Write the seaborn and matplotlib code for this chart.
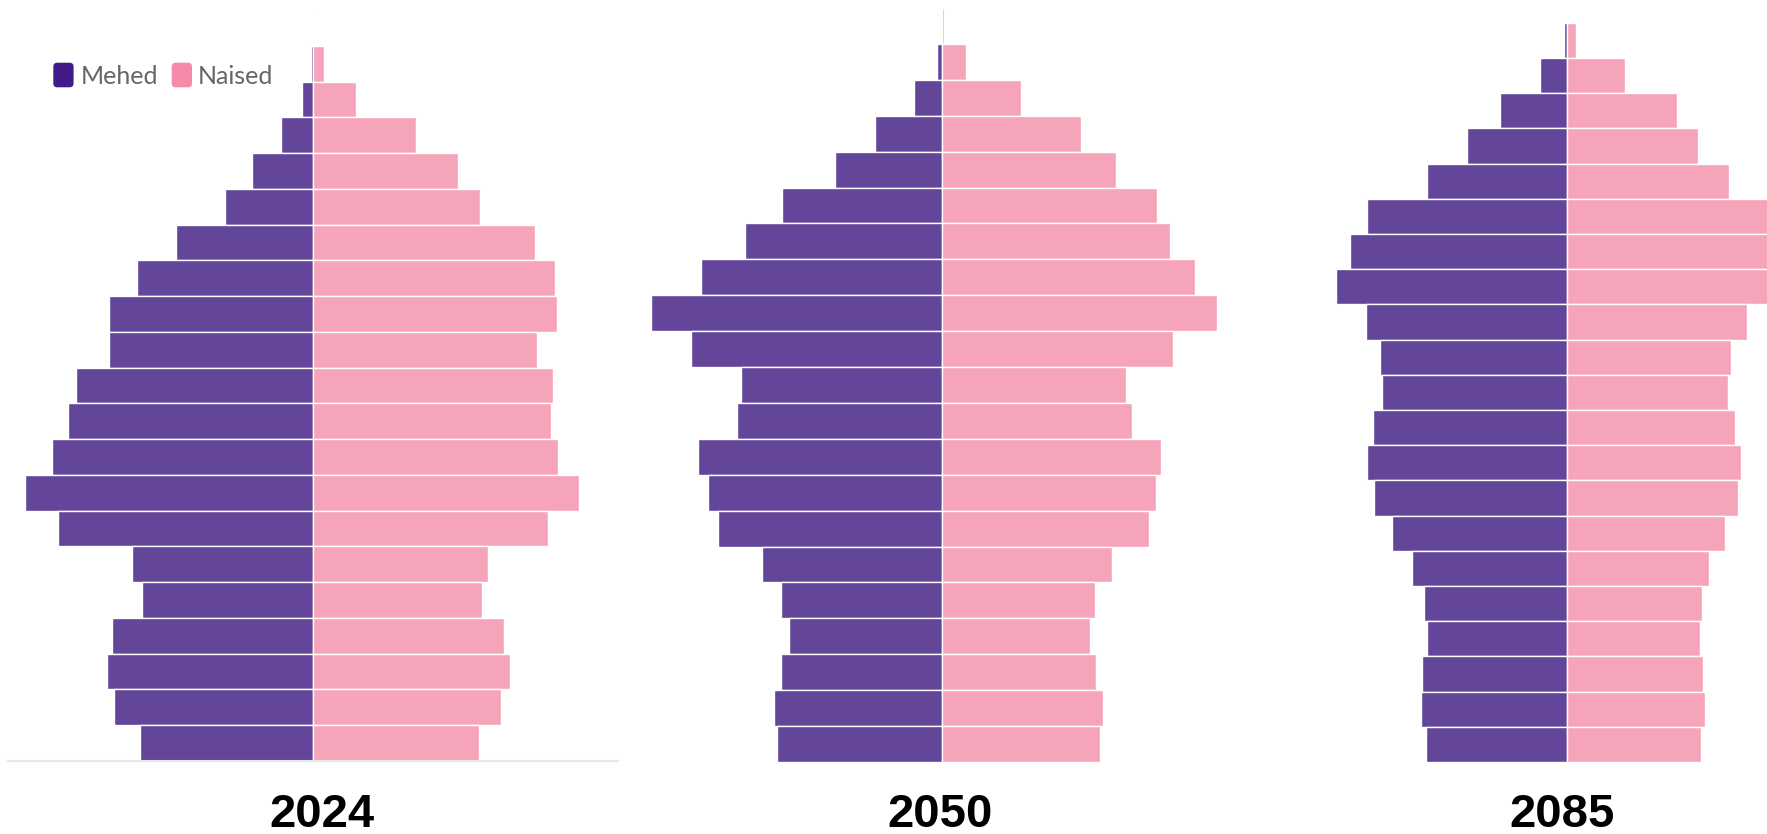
# ==========================================================
# ESTONIA POPULATION PYRAMIDS - 2024 / 2050 / 2085
# ==========================================================

import pandas as pd
import numpy as np

import matplotlib
matplotlib.use("Agg")
import matplotlib.pyplot as plt
from matplotlib.patches import FancyBboxPatch
from matplotlib.transforms import IdentityTransform
import seaborn as sns

# =========================
# DATA (thousands, age 0-4 first)
# =========================

age_groups = ["0-4", "5-9", "10-14", "15-19", "20-24", "25-29", "30-34",
              "35-39", "40-44", "45-49", "50-54", "55-59", "60-64", "65-69",
              "70-74", "75-79", "80-84", "85-89", "90-94", "95-99", "100+"]

years = ["2024", "2050", "2085"]

males_2024 = [33.9, 38.9, 40.3, 39.4, 33.4, 35.4, 49.9, 56.3, 51.0, 48.0, 46.4,
              40.0, 40.0, 34.5, 26.8, 17.2, 11.9, 6.4, 2.2, 0.4, 0.1]
females_2024 = [32.3, 36.7, 38.5, 37.2, 33.0, 34.1, 45.8, 51.9, 47.7, 46.4, 46.9,
                43.6, 47.5, 47.3, 43.3, 32.6, 28.2, 20.0, 8.4, 2.0, 0.2]

males_2050 = [32.3, 32.8, 31.5, 29.9, 31.5, 35.2, 43.8, 45.8, 47.7, 40.0, 39.2,
              49.1, 56.8, 47.1, 38.5, 31.2, 20.9, 13.2, 5.5, 1.1, 0.0]
females_2050 = [30.8, 31.5, 30.1, 28.8, 29.9, 33.2, 40.3, 41.8, 42.7, 37.0, 35.9,
                45.1, 53.7, 49.3, 44.4, 42.0, 33.9, 27.1, 15.4, 4.6, 0.4]

males_2085 = [27.5, 28.4, 28.2, 27.3, 27.9, 30.1, 34.1, 37.6, 38.9, 37.8, 36.1,
              36.5, 39.2, 45.1, 42.2, 38.9, 27.3, 19.4, 13.0, 5.1, 0.4]
females_2085 = [26.2, 27.1, 26.6, 26.0, 26.4, 27.9, 31.0, 33.4, 34.1, 33.0, 31.5,
                32.1, 35.2, 46.2, 45.1, 42.9, 31.7, 25.7, 21.6, 11.4, 1.8]

males = [males_2024, males_2050, males_2085]
females = [females_2024, females_2050, females_2085]

sex_labels = ["Mehed", "Naised"]

# =========================
# STYLE / LAYOUT
# =========================

W, H = 1767, 834
male_color = "#634699"
female_color = "#F6A4B9"
male_legend = "#3F1C8A"
female_legend = "#F48BA8"

PX_PER_K = 5.12   # pixels per thousand people

# left, right, top, bottom, centre (pixels)
panels = [
    (8, 618, 10, 761, 313.3),
    (640, 1250, 8, 762, 942.2),
    (1275, 1767, 22.7, 762, 1566.5),
]

year_pos = [(321.7, 827.3), (939.7, 827.3), (1562.0, 827.3)]

sns.set_style("white")

fig = plt.figure(figsize=(W / 100, H / 100), dpi=100)

order = age_groups[::-1]

# ==========================================================
# PYRAMIDS
# ==========================================================

for i, year in enumerate(years):

    left, right, top, bottom, centre = panels[i]

    ax = fig.add_axes([left / W, 1 - bottom / H,
                       (right - left) / W, (bottom - top) / H])

    df = pd.DataFrame({
        "age": age_groups * 2,
        "sex": [sex_labels[0]] * len(age_groups) + [sex_labels[1]] * len(age_groups),
        "value": [-v for v in males[i]] + list(females[i]),
    })

    sns.barplot(
        data=df,
        x="value",
        y="age",
        hue="sex",
        order=order,
        hue_order=sex_labels,
        palette=[male_color, female_color],
        width=1,
        dodge=False,
        errorbar=None,
        saturation=1,
        edgecolor="white",
        linewidth=1,
        legend=False,
        ax=ax,
    )

    ax.set_xlim(-(centre - left) / PX_PER_K, (right - centre) / PX_PER_K)
    ax.set_ylim(len(age_groups) - 0.5, -0.5)

    ax.set_xticks([])
    ax.set_yticks([])
    ax.set_xlabel("")
    ax.set_ylabel("")
    for side in ["top", "left", "right", "bottom"]:
        ax.spines[side].set_visible(False)

    if i == 0:
        ax.spines["bottom"].set_visible(True)
        ax.spines["bottom"].set_color("#E6E6E6")
        ax.spines["bottom"].set_linewidth(1.5)

    # Year label
    fig.text(year_pos[i][0] / W, 1 - year_pos[i][1] / H, year,
             ha="center", va="baseline", fontsize=34, fontweight="bold",
             family="Liberation Sans", color="black")

# ==========================================================
# LEGEND
# ==========================================================

legend_items = [
    (53.3, 80.7, male_legend, sex_labels[0]),
    (171.7, 198.0, female_legend, sex_labels[1]),
]

for box_x, text_x, color, label in legend_items:
    box = FancyBboxPatch(
        (box_x, H - 87.3), 20.3, 24.6,
        boxstyle="round,pad=0,rounding_size=4",
        facecolor=color, edgecolor="none",
        transform=IdentityTransform(),
    )
    fig.add_artist(box)
    fig.text(text_x / W, 1 - 84.3 / H, label,
             ha="left", va="baseline", fontsize=18,
             family="Lato", color="#666666")

plt.savefig("out.png", dpi=100)
